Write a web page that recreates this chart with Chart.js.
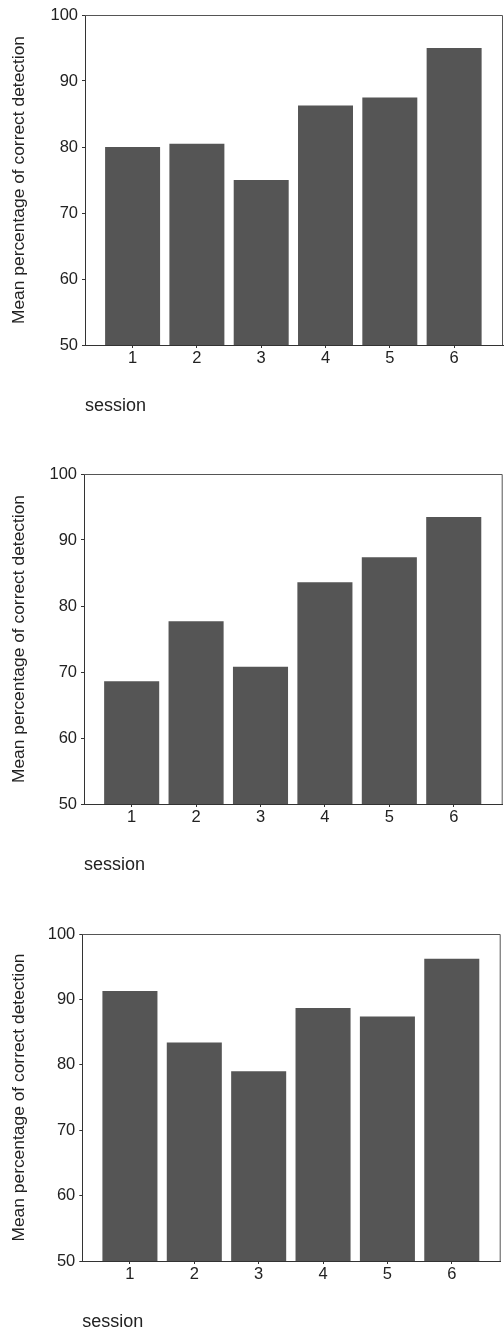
<!DOCTYPE html>
<html><head><meta charset="utf-8">
<script src="https://cdn.jsdelivr.net/npm/chart.js@4/dist/chart.umd.min.js"></script>
<style>
body{margin:0;background:#fff;width:504px;height:1330px;position:relative;overflow:hidden}
.c{position:absolute;left:0;width:504px}
</style></head><body>
<div class="c" style="top:0px;height:420px"><canvas id="c1"></canvas></div>
<div class="c" style="top:459.3px;height:420px"><canvas id="c2"></canvas></div>
<div class="c" style="top:919px;height:417px"><canvas id="c3"></canvas></div>
<script>
const sessions = [1, 2, 3, 4, 5, 6];
const sessionLabels = ['1', '2', '3', '4', '5', '6'];
const yTickValues = [50, 60, 70, 80, 90, 100];
const panel1 = [80.0, 80.5, 75.0, 86.3, 87.5, 95.0];
const panel2 = [68.6, 77.7, 70.8, 83.6, 87.4, 93.5];
const panel3 = [91.3, 83.4, 79.0, 88.7, 87.4, 96.2];
const yTitle = 'Mean percentage of correct detection';
const xTitle = 'session';

const FONT = "'Liberation Sans', Arial, sans-serif";

const frame = {
  id: 'frame',
  afterDraw(chart) {
    const {ctx, chartArea: a} = chart;
    ctx.save();
    ctx.strokeStyle = '#555';
    ctx.lineWidth = 1;
    ctx.beginPath();
    ctx.moveTo(a.left, a.top + 0.5);
    ctx.lineTo(a.right - 0.5, a.top + 0.5);
    ctx.lineTo(a.right - 0.5, a.bottom);
    ctx.stroke();
    ctx.restore();
  }
};

function makeChart(id, values, left, right) {
  new Chart(document.getElementById(id), {
    type: 'bar',
    data: {
      datasets: [{
        data: sessions.map((s, i) => ({x: s, y: values[i]})),
        backgroundColor: '#555555',
        borderWidth: 0,
        barPercentage: 0.855,
        categoryPercentage: 1
      }]
    },
    options: {
      responsive: true,
      maintainAspectRatio: false,
      animation: false,
      events: [],
      layout: {padding: {top: 15, right: 504 - right, left: 0, bottom: 0}},
      plugins: {legend: {display: false}, tooltip: {enabled: false}},
      scales: {
        x: {
          type: 'linear',
          offset: false,
          min: 0.26, max: 6.76,
          afterBuildTicks: s => { s.ticks = sessions.map(v => ({value: v})); },
          afterFit: s => { s.height = 75; },
          ticks: {
            color: '#222',
            font: {family: FONT, size: 16.5},
            padding: 1,
            maxRotation: 0,
            autoSkip: false,
            callback: (v) => sessionLabels[sessions.indexOf(v)] ?? ''
          },
          grid: {display: true, offset: false, drawOnChartArea: false, drawTicks: true, tickLength: 3, color: '#333'},
          border: {display: true, color: '#333', width: 1},
          title: {
            display: true, text: xTitle, align: 'start', color: '#222',
            font: {family: FONT, size: 18}, padding: {top: 0, bottom: 3}
          }
        },
        y: {
          min: 50, max: 100,
          afterBuildTicks: s => { s.ticks = yTickValues.map(v => ({value: v})); },
          afterFit: s => { s.width = left; },
          ticks: {
            color: '#222',
            font: {family: FONT, size: 16.5},
            padding: 4
          },
          grid: {display: true, drawOnChartArea: false, drawTicks: true, tickLength: 3, color: '#333'},
          border: {display: true, color: '#333', width: 1},
          title: {
            display: true, text: yTitle, color: '#222',
            font: {family: FONT, size: 17.4}, padding: {top: 9, bottom: 0}
          }
        }
      }
    },
    plugins: [frame]
  });
}

makeChart('c1', panel1, 85, 503);
makeChart('c2', panel2, 84, 502.7);
makeChart('c3', panel3, 82.3, 500.7);
</script>
</body></html>
